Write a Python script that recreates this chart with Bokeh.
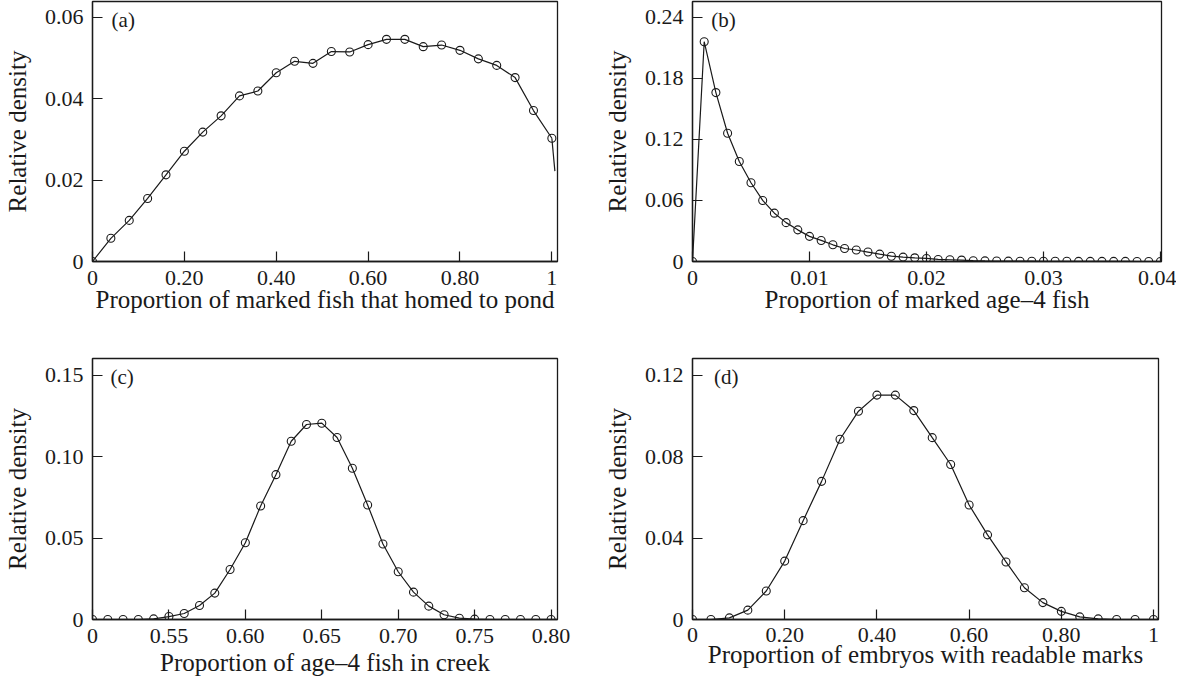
from bokeh.plotting import figure
from bokeh.layouts import column, row
from bokeh.models import Range1d, FixedTicker, Label
from bokeh.embed import file_html
from bokeh.resources import INLINE

FONT = "Liberation Serif"
INK = "#1a1a1a"

# ---------------- data ----------------
# (a) proportion of marked fish that homed to pond
a_x = [0.00, 0.04, 0.08, 0.12, 0.16, 0.20, 0.24, 0.28, 0.32, 0.36, 0.40, 0.44, 0.48,
       0.52, 0.56, 0.60, 0.64, 0.68, 0.72, 0.76, 0.80, 0.84, 0.88, 0.92, 0.96, 1.00]
a_y = [0.0000, 0.0057, 0.0101, 0.0155, 0.0213, 0.0271, 0.0318, 0.0358, 0.0407, 0.0419,
       0.0464, 0.0492, 0.0487, 0.0516, 0.0515, 0.0533, 0.0546, 0.0546, 0.0528, 0.0532,
       0.0519, 0.0498, 0.0482, 0.0452, 0.0371, 0.0303]
a_tail_x = [1.00, 1.0066]
a_tail_y = [0.0303, 0.0222]

# (b) proportion of marked age-4 fish
b_x = [i / 1000 for i in range(41)]
b_y = [0.0000, 0.2160, 0.1660, 0.1260, 0.0983, 0.0774, 0.0600, 0.0475, 0.0382, 0.0311,
       0.0247, 0.0207, 0.0164, 0.0128, 0.0113, 0.0093, 0.0072, 0.0052, 0.0043, 0.0036,
       0.0030, 0.0020, 0.0017, 0.0014, 0.0008, 0.0006, 0.0005, 0.0004, 0.0003, 0.0003,
       0.0002, 0.0002, 0.0002, 0.0001, 0.0001, 0.0001, 0.0001, 0.0001, 0.0000, 0.0000,
       0.0000]

# (c) proportion of age-4 fish in creek
c_x = [0.50 + i / 100 for i in range(31)]
c_y = [0.0000, 0.0000, 0.0000, 0.0000, 0.0004, 0.0018, 0.0037, 0.0086, 0.0162, 0.0307,
       0.0471, 0.0697, 0.0889, 0.1094, 0.1197, 0.1205, 0.1117, 0.0928, 0.0703, 0.0463,
       0.0293, 0.0168, 0.0082, 0.0029, 0.0008, 0.0002, 0.0000, 0.0000, 0.0000, 0.0000,
       0.0000]

# (d) proportion of embryos with readable marks
d_x = [0.00, 0.04, 0.08, 0.12, 0.16, 0.20, 0.24, 0.28, 0.32, 0.36, 0.40, 0.44, 0.48,
       0.52, 0.56, 0.60, 0.64, 0.68, 0.72, 0.76, 0.80, 0.84, 0.88, 0.92, 0.96, 1.00]
d_y = [0.0000, 0.0000, 0.0008, 0.0046, 0.0140, 0.0287, 0.0486, 0.0679, 0.0886, 0.1024,
       0.1103, 0.1103, 0.1027, 0.0894, 0.0762, 0.0563, 0.0416, 0.0283, 0.0156, 0.0083,
       0.0040, 0.0013, 0.0003, 0.0000, 0.0000, 0.0000]

# ticks
a_xticks = [0.0, 0.2, 0.4, 0.6, 0.8, 1.0]
a_xlabels = ["0", "0.20", "0.40", "0.60", "0.80", "1"]
a_yticks = [0.0, 0.02, 0.04, 0.06]
a_ylabels = ["0", "0.02", "0.04", "0.06"]

b_xticks = [0.0, 0.01, 0.02, 0.03, 0.04]
b_xlabels = ["0", "0.01", "0.02", "0.03", "0.04"]
b_yticks = [0.0, 0.06, 0.12, 0.18, 0.24]
b_ylabels = ["0", "0.06", "0.12", "0.18", "0.24"]

c_xticks = [0.50, 0.55, 0.60, 0.65, 0.70, 0.75, 0.80]
c_xlabels = ["0", "0.55", "0.60", "0.65", "0.70", "0.75", "0.80"]
c_yticks = [0.0, 0.05, 0.10, 0.15]
c_ylabels = ["0", "0.05", "0.10", "0.15"]

d_xticks = [0.0, 0.2, 0.4, 0.6, 0.8, 1.0]
d_xlabels = ["0", "0.20", "0.40", "0.60", "0.80", "1"]
d_yticks = [0.0, 0.04, 0.08, 0.12]
d_ylabels = ["0", "0.04", "0.08", "0.12"]

a_title = "Proportion of marked fish that homed to pond"
b_title = "Proportion of marked age\u20134 fish"
c_title = "Proportion of age\u20134 fish in creek"
d_title = "Proportion of embryos with readable marks"
y_title = "Relative density"


def panel(x, y, xr, yr, xt, xl, yt, yl, xtitle, tag, tag_xy, w, h, bl, br, bt, bb,
          x_std=(9, -2), tail=None):
    p = figure(width=w, height=h, x_range=Range1d(*xr), y_range=Range1d(*yr),
               output_backend="svg", toolbar_location=None,
               min_border_left=bl, min_border_right=br,
               min_border_top=bt, min_border_bottom=bb)
    p.background_fill_color = "white"
    p.border_fill_color = "white"
    p.grid.visible = False
    p.outline_line_color = INK
    p.outline_line_width = 1.3
    p.outline_line_alpha = 1.0

    p.xaxis.ticker = FixedTicker(ticks=xt)
    p.xaxis.major_label_overrides = {k: v for k, v in zip(xt, xl)}
    p.yaxis.ticker = FixedTicker(ticks=yt)
    p.yaxis.major_label_overrides = {k: v for k, v in zip(yt, yl)}

    for ax in (p.xaxis[0], p.yaxis[0]):
        ax.axis_line_color = INK
        ax.axis_line_width = 1.3
        ax.major_tick_in = 10
        ax.major_tick_out = 0
        ax.minor_tick_in = 0
        ax.minor_tick_out = 0
        ax.major_tick_line_color = INK
        ax.major_tick_line_width = 1.2
        ax.major_label_text_font = FONT
        ax.major_label_text_font_size = "22px"
        ax.major_label_text_color = INK
        ax.axis_label_text_font = FONT
        ax.axis_label_text_font_size = "25px"
        ax.axis_label_text_font_style = "normal"
        ax.axis_label_text_color = INK

    p.xaxis.axis_label = xtitle
    p.xaxis.major_label_standoff = x_std[0]
    p.xaxis.axis_label_standoff = x_std[1]
    p.yaxis.axis_label = y_title
    p.yaxis.major_label_standoff = 9
    p.yaxis.axis_label_standoff = 11

    if tail is not None:
        p.line(tail[0], tail[1], line_color=INK, line_width=1.2)
    p.line(x, y, line_color=INK, line_width=1.2)
    p.scatter(x, y, marker="circle", size=8, fill_color=None,
              line_color=INK, line_width=1.1)

    p.add_layout(Label(x=tag_xy[0], y=tag_xy[1], text=tag, text_font=FONT,
                       text_font_size="21px", text_color=INK,
                       text_baseline="middle", text_align="left"))
    return p


pa = panel(a_x, a_y, (0.0, 1.0123), (0.0, 0.0639), a_xticks, a_xlabels, a_yticks,
           a_ylabels, a_title, "(a)", (0.0416, 0.0594),
           w=600, h=340, bl=88, br=43, bt=1, bb=79, tail=(a_tail_x, a_tail_y))
pb = panel(b_x, b_y, (0.0, 0.04009), (0.0, 0.2555), b_xticks, b_xlabels, b_yticks,
           b_ylabels, b_title, "(b)", (0.0016, 0.2375),
           w=576, h=340, bl=91, br=15, bt=1, bb=79)
pc = panel(c_x, c_y, (0.50, 0.8042), (0.0, 0.1602), c_xticks, c_xlabels, c_yticks,
           c_ylabels, c_title, "(c)", (0.5118, 0.1490),
           w=600, h=344, bl=88, br=43, bt=18, bb=65, x_std=(9, 3))
pd = panel(d_x, d_y, (0.0, 1.0108), (0.0, 0.1283), d_xticks, d_xlabels, d_yticks,
           d_ylabels, d_title, "(d)", (0.0467, 0.1192),
           w=576, h=344, bl=89, br=18, bt=17, bb=57, x_std=(8, -4))

layout = column(row(pa, pb), row(pc, pd))

with open("out.html", "w") as f:
    f.write(file_html(layout, INLINE))
